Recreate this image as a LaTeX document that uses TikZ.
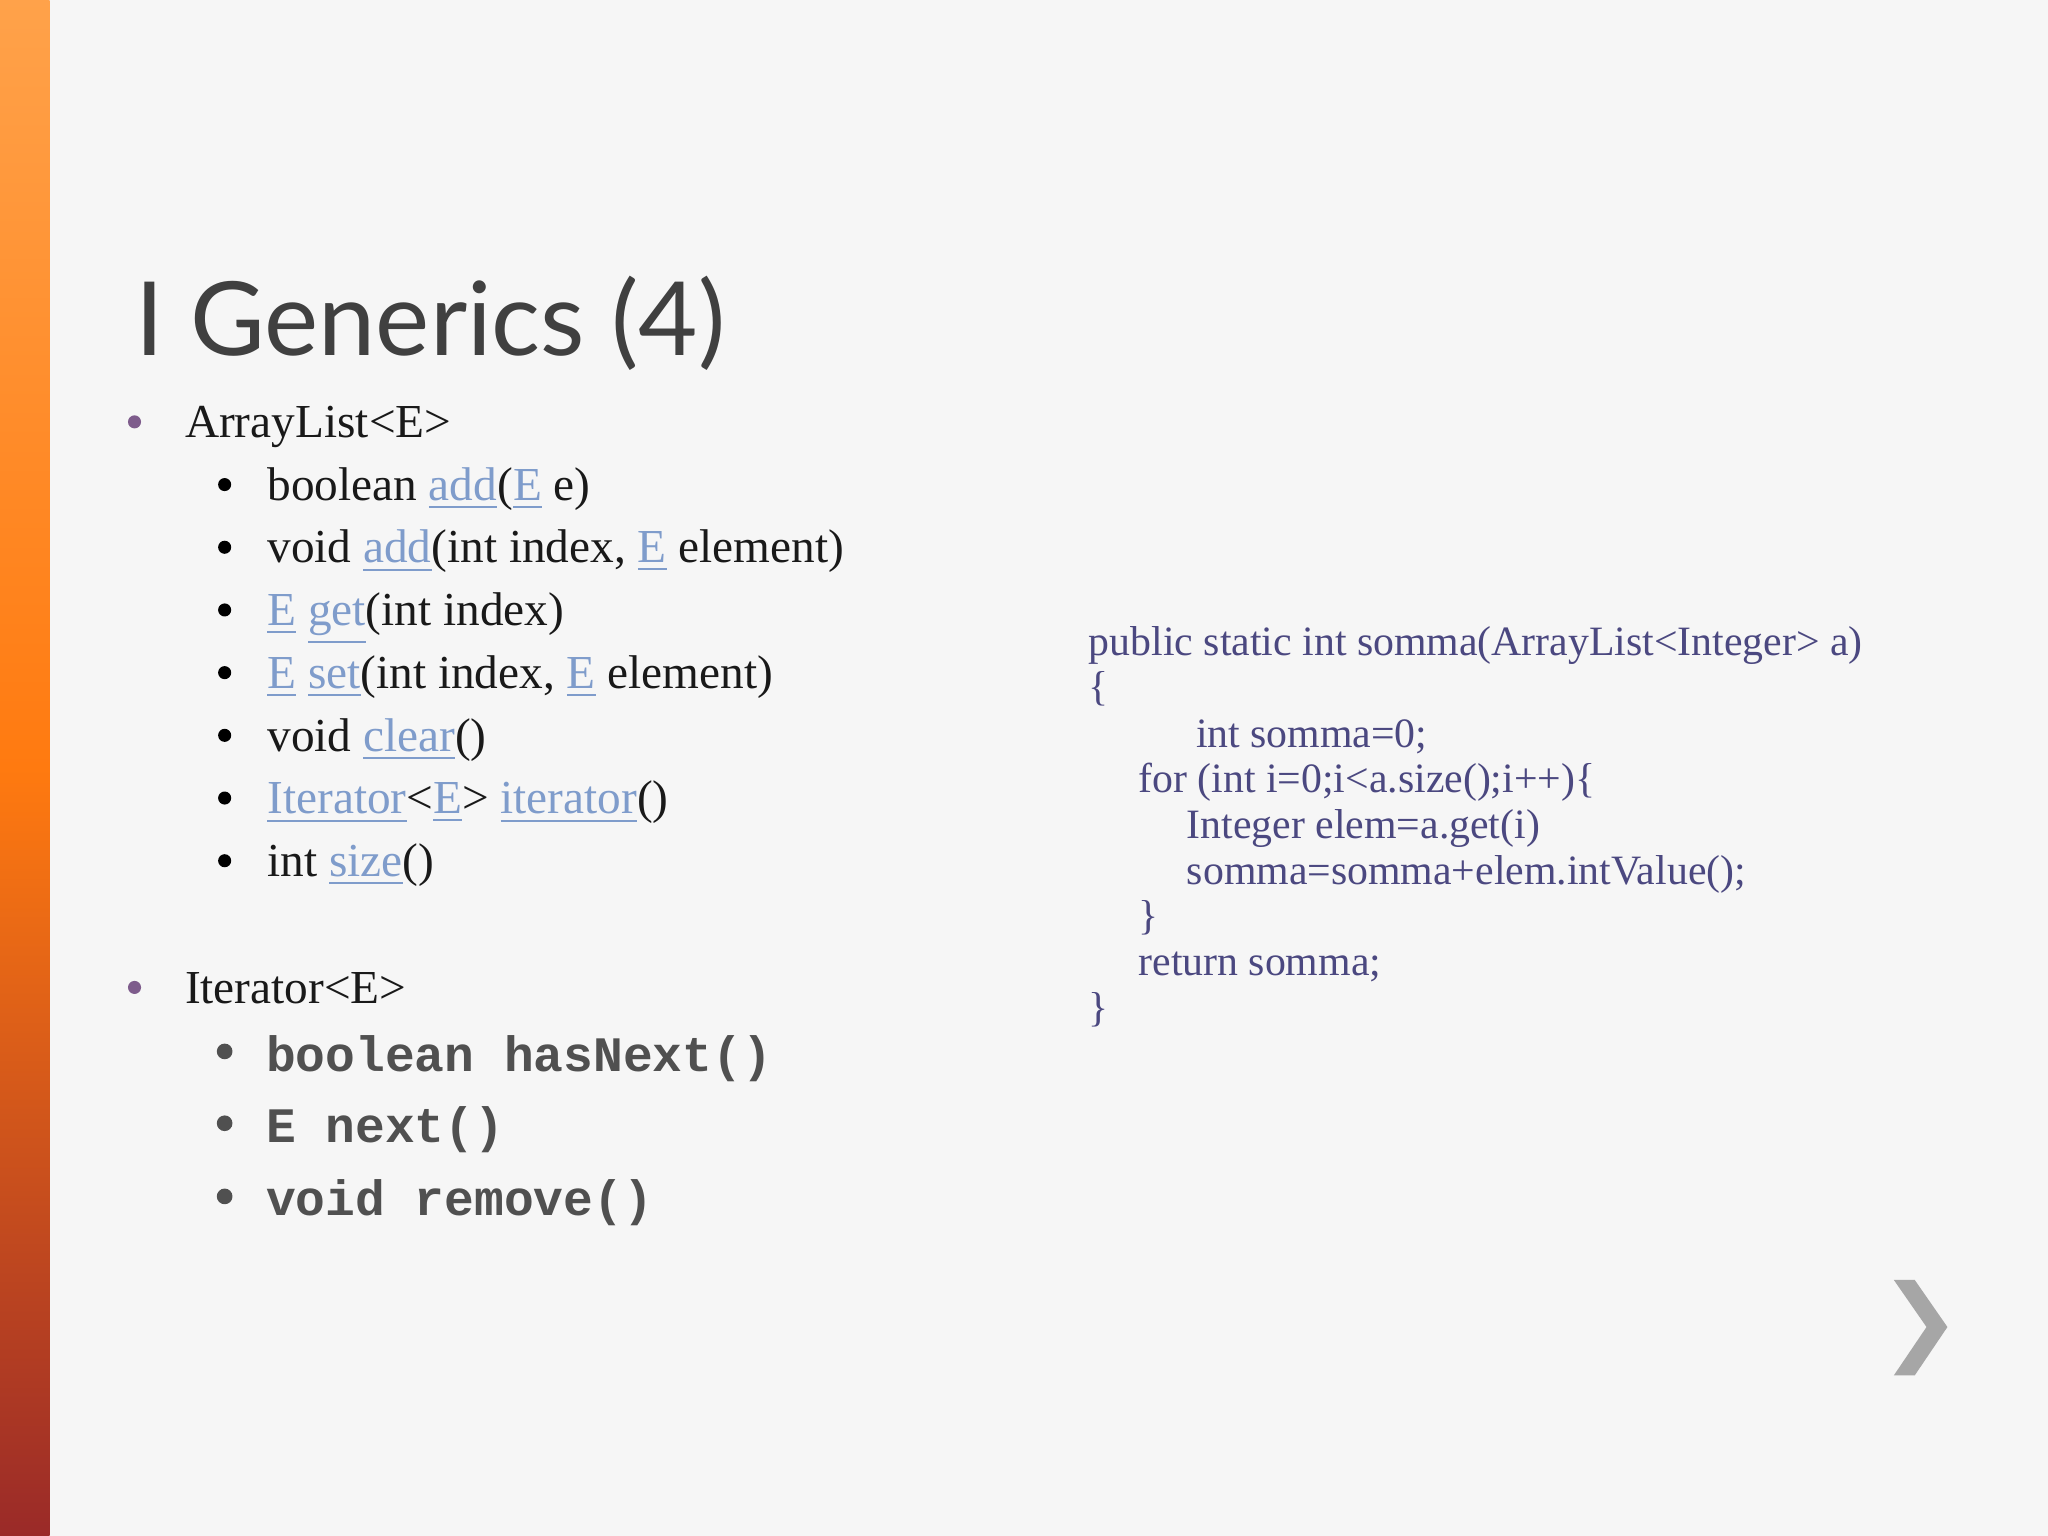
\documentclass[tikz,border=0pt]{standalone}
\usepackage{fontspec}
\setmainfont{Liberation Serif}
\newfontfamily\titlefont{Lato}
\newfontfamily\monofont{Liberation Mono}
\definecolor{bgpaper}{HTML}{F6F6F6}
\definecolor{linkblue}{HTML}{7F9CCB}
\definecolor{codeviolet}{HTML}{4B4880}
\definecolor{dotviolet}{HTML}{7E5C8C}
\definecolor{monogray}{HTML}{505050}
\definecolor{bartop}{HTML}{FFA24A}
\definecolor{barmid}{HTML}{FF7A10}
\definecolor{barbot}{HTML}{9A2A28}
\newcommand{\lnk}[1]{\textcolor{linkblue}{\underline{#1}}}
\tikzset{
  txt/.style={anchor=base west, inner sep=0pt, font=\fontsize{10.3}{12}\selectfont, text=black!90},
  code/.style={anchor=base west, inner sep=0pt, font=\fontsize{9.1}{10}\selectfont, text=codeviolet},
  mono/.style={anchor=base west, inner sep=0pt, font=\monofont\bfseries\fontsize{10.8}{12}\selectfont, text=monogray},
  dotA/.style={circle, fill=dotviolet, inner sep=0pt, minimum size=0.1cm},
  dotB/.style={circle, fill=black, inner sep=0pt, minimum size=0.1cm},
  dotC/.style={circle, fill=monogray, inner sep=0pt, minimum size=0.12cm}
}
\begin{document}
\begin{tikzpicture}[x=0.01cm,y=-0.01cm]

\fill[bgpaper] (0,0) rectangle (1568,1176);
\shade[top color=bartop, bottom color=barbot, middle color=barmid] (0,0) rectangle (38,1176);
\useasboundingbox (0,0) rectangle (1568,1176);

% title
\node (title) at (103,272) [anchor=base west, inner sep=0pt, font=\titlefont\fontsize{22.3}{26}\selectfont, text=black!75]{I Generics (4)};

% ArrayList
\node (d1) at (103,323) [dotA]{};
\node (arr) at (141,335) [txt]{ArrayList<E>};
\foreach \y/\lbl [count=\i] in {
  383/{boolean \lnk{add}(\lnk{E} e)},
  431/{void \lnk{add}(int index, \lnk{E} element)},
  479/{\lnk{E} \lnk{get}(int index)},
  527/{\lnk{E} \lnk{set}(int index, \lnk{E} element)},
  575/{void \lnk{clear}()},
  623/{\lnk{Iterator}<\lnk{E}> \lnk{iterator}()},
  671/{int \lnk{size}()}}{
  \node (b\i) at (172,\y-12) [dotB]{};
  \node (m\i) at (204,\y) [txt]{\lbl};
}

% Iterator
\node (d2) at (103,756) [dotA]{};
\node (itr) at (141,768) [txt]{Iterator<E>};
\foreach \y/\lbl [count=\i] in {820/{boolean hasNext()}, 875/{E next()}, 931/{void remove()}}{
  \node (c\i) at (172,\y-15) [dotC]{};
  \node (n\i) at (203,\y) [mono]{\lbl};
}

% code
\node (k1) at (833,502) [code]{public static int somma(ArrayList<Integer> a)};
\node (k2) at (833,536) [code]{\{};
\node (k3) at (915,572) [code]{int somma=0;};
\node (k4) at (871,607) [code]{for (int i=0;i<a.size();i++)\{};
\node (k5) at (908,642) [code]{Integer elem=a.get(i)};
\node (k6) at (908,677) [code]{somma=somma+elem.intValue();};
\node (k7) at (871,712) [code]{\}};
\node (k8) at (871,747) [code]{return somma;};
\node (k9) at (833,782) [code]{\}};

% next arrow
\fill[black!35] (1450,980) -- (1466,980) -- (1491,1016) -- (1466,1053) -- (1450,1053) -- (1475,1016) -- cycle;

\end{tikzpicture}
\end{document}
